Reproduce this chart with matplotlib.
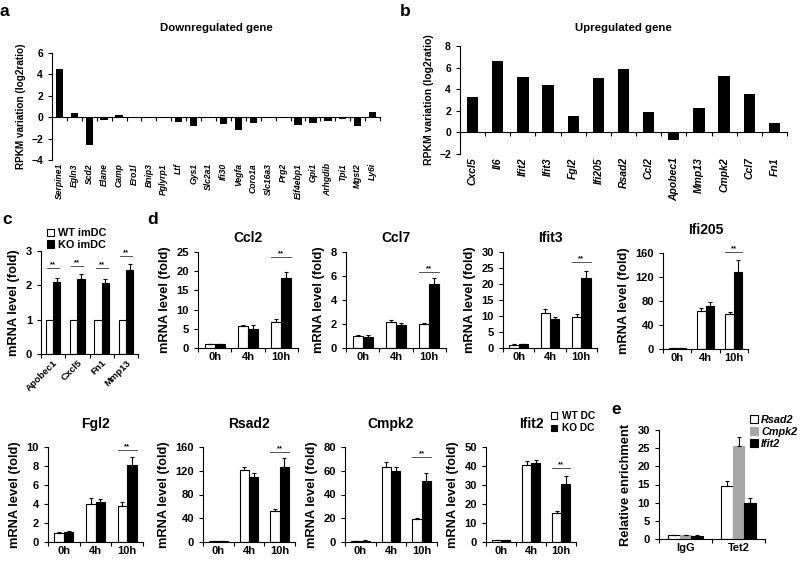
import numpy as np
import matplotlib
matplotlib.use('Agg')
import matplotlib.pyplot as plt

plt.rcParams['font.family'] = ['Liberation Sans', 'DejaVu Sans']
plt.rcParams['font.weight'] = 'bold'
plt.rcParams['axes.labelweight'] = 'bold'
plt.rcParams['axes.titleweight'] = 'bold'
plt.rcParams['axes.linewidth'] = 0.8

# ---- data ----
down_genes = ['Serpine1', 'Egln3', 'Scd2', 'Elane', 'Camp', 'Ero1l', 'Bnip3', 'Pglyrp1',
              'Ltf', 'Gys1', 'Slc2a1', 'Ifi30', 'Vegfa', 'Coro1a', 'Slc16a3', 'Prg2',
              'Eif4ebp1', 'Gpi1', 'Arhgdib', 'Tpi1', 'Mgst2', 'Ly6i']
down_vals = [4.5, 0.4, -2.6, -0.25, 0.2, -0.02, -0.1, -0.08, -0.45, -0.85, -0.08, -0.65,
             -1.2, -0.55, -0.12, -0.05, -0.7, -0.55, -0.4, -0.2, -0.85, 0.45]

up_genes = ['Cxcl5', 'Il6', 'Ifit2', 'Ifit3', 'Fgl2', 'Ifi205', 'Rsad2', 'Ccl2',
            'Apobec1', 'Mmp13', 'Cmpk2', 'Ccl7', 'Fn1']
up_vals = [3.25, 6.6, 5.1, 4.4, 1.5, 5.05, 5.9, 1.9, -0.75, 2.3, 5.25, 3.55, 0.9]

c_genes = ['Apobec1', 'Cxcl5', 'Fn1', 'Mmp13']
c_wt = [1, 1, 1, 1]
c_ko = [2.1, 2.18, 2.07, 2.45]
c_ko_err = [0.12, 0.15, 0.1, 0.17]
c_sig = [2.5, 2.55, 2.5, 2.85]

times = ['0h', '4h', '10h']
d_genes = ['Ccl2', 'Ccl7', 'Ifit3', 'Ifi205', 'Fgl2', 'Rsad2', 'Cmpk2', 'Ifit2']
d_wt = [[1.0, 5.6, 6.9], [1.0, 2.2, 2.0], [1.0, 11.0, 9.7], [1, 63, 58],
        [1, 4.0, 3.8], [1, 122, 52], [1, 63, 19], [1, 40.5, 15.3]]
d_wt_err = [[0.1, 0.3, 0.7], [0.05, 0.15, 0.1], [0.1, 1.2, 0.8], [0.3, 5, 4],
            [0.05, 0.6, 0.4], [0.3, 4, 3], [0.2, 4, 1], [0.3, 2, 1]]
d_ko = [[1.0, 5.0, 18.3], [0.95, 1.95, 5.3], [1.1, 9.0, 21.8], [1, 72, 128],
        [1.05, 4.25, 8.15], [1, 110, 127], [1.2, 60, 51.5], [1, 41.5, 30.5]]
d_ko_err = [[0.1, 0.9, 1.5], [0.1, 0.1, 0.5], [0.1, 0.6, 2.3], [0.3, 6, 20],
            [0.1, 0.3, 0.85], [0.3, 6, 14], [0.2, 3, 6.5], [0.3, 1.5, 4]]
d_sig = [23.7, 6.3, 26.9, 162, 9.7, 151, 71.6, 39]
d_ymax = [25, 8, 30, 160, 10, 160, 80, 50]
d_ystep = [5, 2, 5, 40, 2, 40, 20, 10]

e_groups = ['IgG', 'Tet2']
e_series = ['Rsad2', 'Cmpk2', 'Ifit2']
e_vals = [[1.1, 14.7], [1.0, 25.5], [0.9, 10.0]]
e_err = [[0.1, 1.2], [0.1, 2.5], [0.1, 1.4]]

fig = plt.figure(figsize=(8, 5.61), dpi=100)


def px_axes(l, t, r, b):
    return fig.add_axes([l / 800, 1 - b / 561, (r - l) / 800, (b - t) / 561])


def style(ax):
    ax.spines[['top', 'right']].set_visible(False)
    ax.tick_params(direction='out', length=3, width=0.8)


def group_ticks(ax, n, labels, fs):
    ax.set_xlim(-0.5, n - 0.5)
    ax.set_xticks(np.arange(n))
    ax.set_xticklabels(labels, fontsize=fs)
    ax.set_xticks(np.arange(n + 1) - 0.5, minor=True)
    ax.tick_params(axis='x', which='major', length=0, pad=3)
    ax.tick_params(axis='x', which='minor', length=3, width=0.8)


def sig_mark(ax, x, y, half):
    ax.plot([x - half, x + half], [y, y], color='#333333', lw=0.6, clip_on=False)
    ax.text(x, y, '**', ha='center', va='bottom', fontsize=5.5, clip_on=False)


ekw = dict(ecolor='black', elinewidth=0.8, capsize=1.5, capthick=0.8)

# ---- panels a and b ----
def rpkm_panel(box, genes, vals, ylim, ystep, width, title, pad, fs, yfs, lfs):
    ax = px_axes(*box)
    style(ax)
    x = np.arange(len(genes))
    ax.bar(x, vals, width, color='black')
    ax.set_xlim(-0.5, len(genes) - 0.5)
    ax.set_ylim(*ylim)
    ax.set_yticks(np.arange(ylim[0], ylim[1] + 0.1, ystep))
    ax.tick_params(axis='y', labelsize=yfs)
    ax.spines['bottom'].set_position(('data', 0))
    ax.set_xticks(np.arange(len(genes) + 1) - 0.5)
    ax.set_xticklabels([])
    for xi, g in zip(x, genes):
        ax.text(xi, -0.03, g, transform=ax.get_xaxis_transform(), rotation=90,
                ha='center', va='top', style='italic', fontsize=fs)
    ax.set_ylabel('RPKM variation (log2ratio)', fontsize=lfs)
    ax.set_title(title, fontsize=8.2, pad=pad)
    return ax


rpkm_panel((52, 53, 380, 160), down_genes, down_vals, (-4, 6), 2, 0.5,
           'Downregulated gene', 16, 6.2, 7.5, 7.2)
rpkm_panel((460, 46, 787, 154), up_genes, up_vals, (-2, 8), 2, 0.45,
           'Upregulated gene', 11, 7.5, 7.5, 7.5)

# ---- panel c ----
ax = px_axes(41, 251, 138, 354)
style(ax)
x = np.arange(len(c_genes))
w = 0.3
ax.bar(x - w / 2, c_wt, w, color='white', edgecolor='black', lw=0.8, label='WT imDC')
ax.bar(x + w / 2, c_ko, w, color='black', edgecolor='black', lw=0.8, label='KO imDC',
       yerr=[np.zeros(len(c_ko)), c_ko_err], error_kw=ekw)
ax.set_ylim(0, 3)
ax.set_yticks([0, 1, 2, 3])
ax.tick_params(axis='y', labelsize=8)
group_ticks(ax, len(c_genes), c_genes, 6.8)
for lab in ax.get_xticklabels():
    lab.set_rotation(45)
    lab.set_ha('right')
    lab.set_rotation_mode('anchor')
for xi, s in zip(x, c_sig):
    sig_mark(ax, xi, s, 0.25)
ax.set_ylabel('mRNA level (fold)', fontsize=9.3)
ax.legend(loc='upper left', bbox_to_anchor=(0.06, 1.22), frameon=False, fontsize=7.8,
          handlelength=0.7, handleheight=0.7, handletextpad=0.3, labelspacing=0.15,
          borderpad=0, borderaxespad=0)

# ---- panel d ----
d_boxes = [(198, 252, 298, 348), (346, 252, 446, 348), (503, 252, 597, 348),
           (663, 253, 748, 349), (48, 447, 143, 542), (203, 447, 295, 542),
           (345, 447, 437, 542), (486, 447, 576, 542)]
d_pads = [7, 7, 7, 14, 14, 14, 14, 14]
for i, gene in enumerate(d_genes):
    ax = px_axes(*d_boxes[i])
    style(ax)
    x = np.arange(len(times))
    ax.bar(x - w / 2, d_wt[i], w, color='white', edgecolor='black', lw=0.8, label='WT DC',
           yerr=[np.zeros(3), d_wt_err[i]], error_kw=ekw)
    ax.bar(x + w / 2, d_ko[i], w, color='black', edgecolor='black', lw=0.8, label='KO DC',
           yerr=[np.zeros(3), d_ko_err[i]], error_kw=ekw)
    ax.set_ylim(0, d_ymax[i])
    ax.set_yticks(np.arange(0, d_ymax[i] + 0.1, d_ystep[i]))
    ax.tick_params(axis='y', labelsize=8)
    group_ticks(ax, len(times), times, 8)
    sig_mark(ax, 2, d_sig[i], 0.3)
    ax.set_ylabel('mRNA level (fold)', fontsize=9.3)
    ax.set_title(gene, fontsize=10, pad=d_pads[i])
    if gene == 'Ifit2':
        ax.legend(loc='upper left', bbox_to_anchor=(0.72, 1.38), frameon=False, fontsize=7.3,
                  handlelength=0.6, handleheight=0.6, handletextpad=0.5, labelspacing=0.25,
                  borderpad=0, borderaxespad=0)

# ---- panel e ----
ax = px_axes(659, 430, 765, 539)
style(ax)
x = np.arange(len(e_groups))
we = 0.22
e_colors = ['white', '#a6a6a6', 'black']
e_edges = ['black', '#a6a6a6', 'black']
for k, name in enumerate(e_series):
    ax.bar(x + (k - 1) * we, e_vals[k], we, color=e_colors[k], edgecolor=e_edges[k], lw=0.8,
           label=name, yerr=[np.zeros(2), e_err[k]], error_kw=ekw)
ax.set_ylim(0, 30)
ax.set_yticks(np.arange(0, 31, 5))
ax.tick_params(axis='y', labelsize=8)
group_ticks(ax, len(e_groups), e_groups, 8)
ax.set_ylabel('Relative enrichment', fontsize=9.3)
leg = ax.legend(loc='upper left', bbox_to_anchor=(0.86, 1.14), frameon=False, fontsize=7.8,
                handlelength=0.7, handleheight=0.7, handletextpad=0.3, labelspacing=0.2,
                borderpad=0, borderaxespad=0)
for t in leg.get_texts():
    t.set_style('italic')

# ---- panel letters ----
for lab, (px, py) in zip('abcde', [(4, 12), (405, 12), (7, 220), (153, 220), (616, 410)]):
    fig.text(px / 800, 1 - py / 561, lab, fontsize=12.5, fontweight='bold', ha='center', va='center')

fig.savefig('out.png', dpi=100)
